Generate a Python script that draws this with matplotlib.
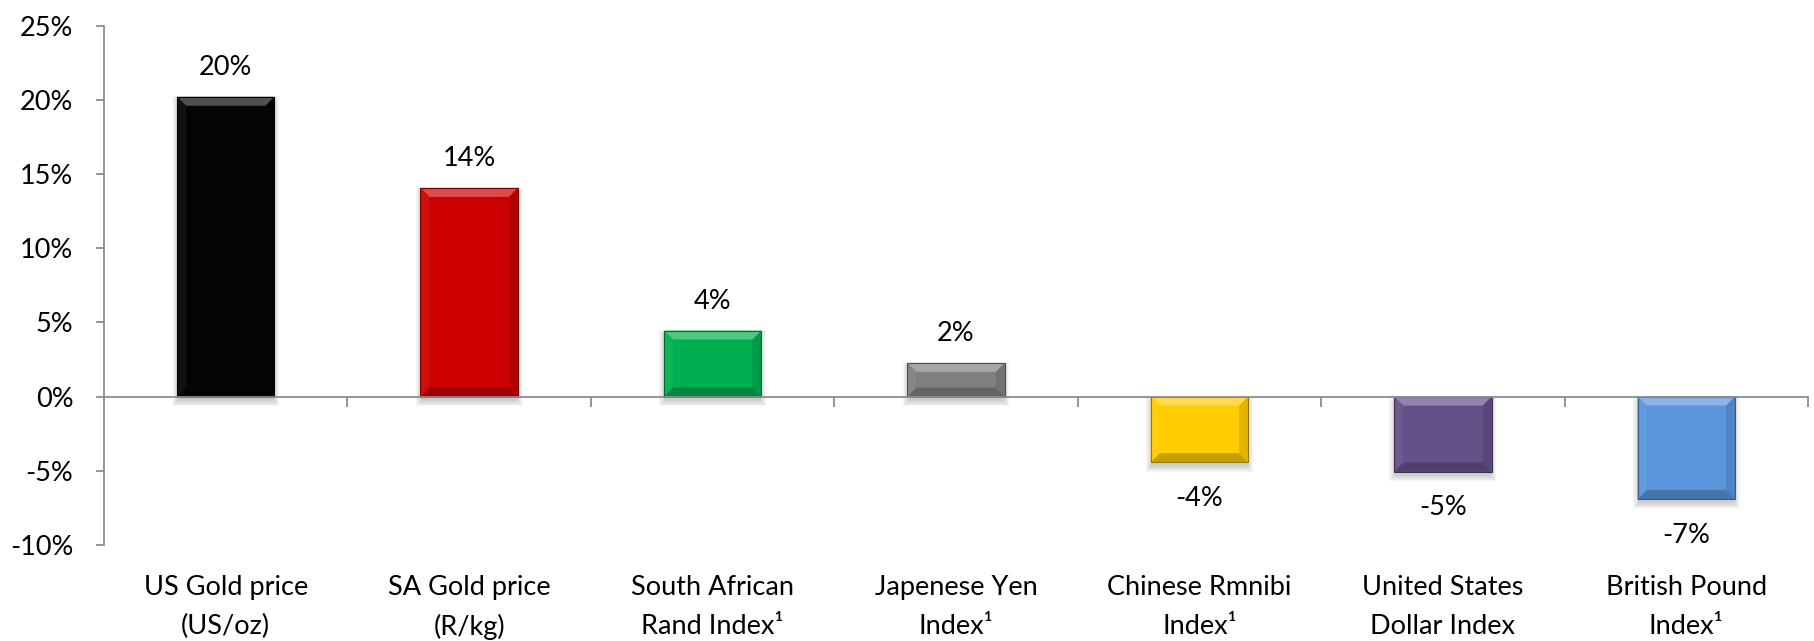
import matplotlib
matplotlib.use("Agg")
import matplotlib.pyplot as plt
from matplotlib.patches import Polygon, Rectangle
from matplotlib.colors import to_rgb
from matplotlib.transforms import blended_transform_factory

plt.rcParams['font.family'] = ['Lato', 'DejaVu Sans']

# categorie e variazioni percentuali
categories = ['US Gold price\n(US/oz)', 'SA Gold price\n(R/kg)', 'South African\nRand Index\u00b9',
              'Japenese Yen\nIndex\u00b9', 'Chinese Rmnibi\nIndex\u00b9', 'United States\nDollar Index',
              'British Pound\nIndex\u00b9']
changes = [20.2, 14.06, 4.45, 2.27, -4.42, -5.05, -6.9]
bar_colors = ['#050505', '#CC0000', '#00B050', '#808080', '#FFCC00', '#66508A', '#5A96DC']
y_ticks = [-10, -5, 0, 5, 10, 15, 20, 25]

axis_color = '#8C8C8C'
font_size = 19.5


def mix(color, other, t):
    c = to_rgb(color)
    o = to_rgb(other)
    return tuple(c[i] * (1 - t) + o[i] * t for i in range(3))


# disegna l'effetto smussato (bevel) e l'ombra di una barra
def bevel_bar(ax, patch, color, size_px=9):
    x0 = patch.get_x()
    w = patch.get_width()
    y0 = patch.get_y()
    h = patch.get_height()
    px0, py0 = ax.transData.transform((x0, min(y0, y0 + h)))
    px1, py1 = ax.transData.transform((x0 + w, max(y0, y0 + h)))
    inv = ax.transData.inverted()
    b = min(size_px, (py1 - py0) / 2.0, (px1 - px0) / 2.0)

    # ombra morbida sotto la barra
    for k in range(5):
        e = 1.5 + k * 1.3
        sx0, sy0 = inv.transform((px0 - e + 2, py0 - e - 3))
        sx1, sy1 = inv.transform((px1 + e - 2, py1 + e - 6))
        ax.add_patch(Rectangle((sx0, sy0), sx1 - sx0, sy1 - sy0, facecolor='black',
                               edgecolor='none', alpha=0.04, zorder=1))

    outer = [(px0, py0), (px1, py0), (px1, py1), (px0, py1)]
    inner = [(px0 + b, py0 + b), (px1 - b, py0 + b), (px1 - b, py1 - b), (px0 + b, py1 - b)]
    facets = [
        ([outer[0], outer[1], inner[1], inner[0]], mix(color, 'black', 0.22)),  # basso
        ([outer[1], outer[2], inner[2], inner[1]], mix(color, 'black', 0.12)),  # destra
        ([outer[2], outer[3], inner[3], inner[2]], mix(color, 'white', 0.30)),  # alto
        ([outer[3], outer[0], inner[0], inner[3]], mix(color, 'white', 0.05)),  # sinistra
    ]
    for pts, fc in facets:
        data_pts = inv.transform(pts)
        ax.add_patch(Polygon(data_pts, closed=True, facecolor=fc, edgecolor='none', zorder=3))
    ax.add_patch(Rectangle((x0, y0), w, h, facecolor='none',
                           edgecolor=mix(color, 'black', 0.4), linewidth=0.8, zorder=4))


fig = plt.figure(figsize=(18.14, 6.41), dpi=100)
ax = fig.add_axes([104 / 1814, 1 - 545 / 641, (1808 - 104) / 1814, (545 - 25.5) / 641])

x = list(range(len(categories)))
ax.set_xlim(-0.5, len(categories) - 0.5)
ax.set_ylim(-10, 25)

bars = ax.bar(x, changes, width=0.40, color=bar_colors, zorder=2)
for patch, col in zip(bars, bar_colors):
    bevel_bar(ax, patch, col)

# etichette con i valori
for xi, v in zip(x, changes):
    label = '{:.0f}%'.format(v)
    if v >= 0:
        ax.annotate(label, (xi, v), xytext=(0, 12), textcoords='offset points',
                    ha='center', va='bottom', fontsize=font_size)
    else:
        ax.annotate(label, (xi, v), xytext=(0, -17), textcoords='offset points',
                    ha='center', va='top', fontsize=font_size)

# etichette delle categorie sotto il grafico
trans = blended_transform_factory(ax.transData, ax.transAxes)
for xi, name in zip(x, categories):
    ax.text(xi, -0.057, name, transform=trans, ha='center', va='top',
            fontsize=font_size, linespacing=1.7)

# assi
for side in ['top', 'right']:
    ax.spines[side].set_visible(False)
ax.spines['bottom'].set_position(('data', 0))
for side in ['left', 'bottom']:
    ax.spines[side].set_color(axis_color)
    ax.spines[side].set_linewidth(1.3)
    ax.spines[side].set_zorder(5)

ax.set_yticks(y_ticks)
ax.set_yticklabels(['{}%'.format(t) for t in y_ticks])
ax.tick_params(axis='y', direction='out', length=6, width=1.3, color=axis_color,
               labelsize=font_size, pad=16)
ax.set_xticks([i + 0.5 for i in x])
ax.set_xticklabels([])
ax.tick_params(axis='x', direction='out', length=7, width=1.3, color=axis_color)

fig.savefig('out.png', dpi=100)
